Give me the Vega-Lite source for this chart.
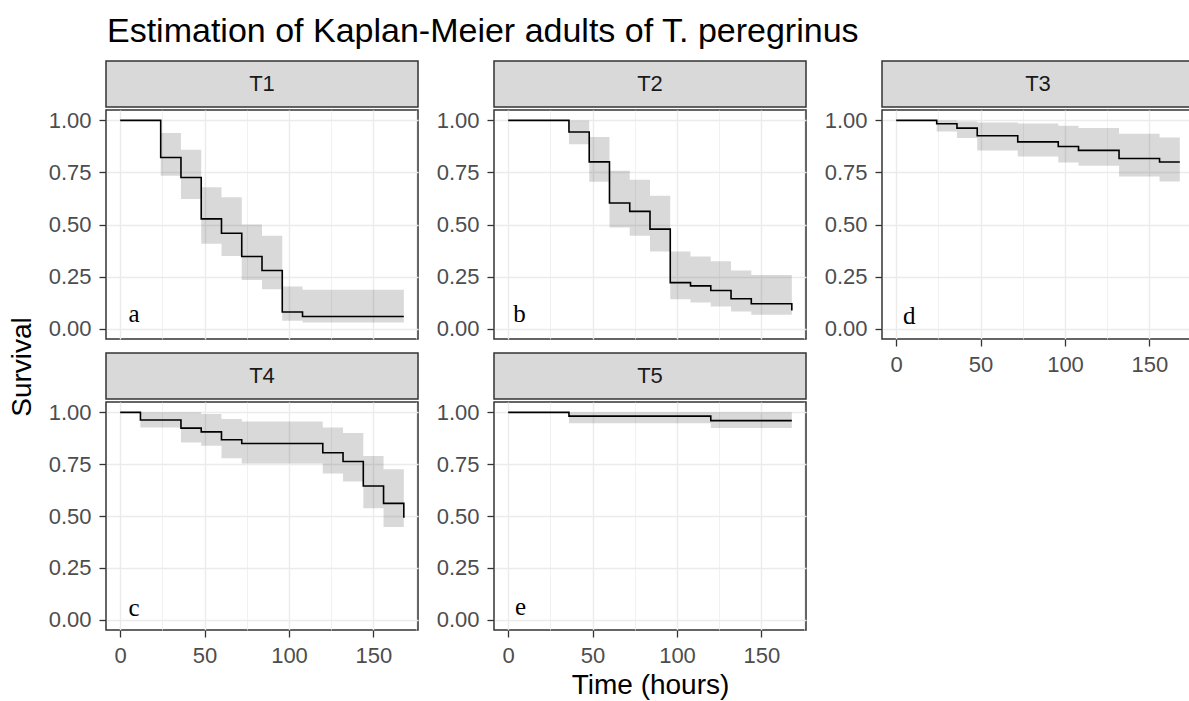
{
  "$schema": "https://vega.github.io/schema/vega-lite/v6.json",
  "padding": {"left": 5, "top": 15, "right": 5, "bottom": 5},
  "background": "white",
  "title": {"text": "Estimation of Kaplan-Meier adults of T. peregrinus", "anchor": "start", "fontSize": 34, "fontWeight": "normal", "font": "Liberation Sans", "color": "#000000", "dx": 102, "offset": 11},
  "config": {
    "font": "Liberation Sans",
    "view": {"stroke": null},
    "axis": {"labelFont": "Liberation Sans", "labelFontSize": 22, "labelColor": "#4D4D4D", "tickColor": "#333333", "tickSize": 7, "tickWidth": 1.3, "labelPadding": 8, "gridColor": "#EBEBEB", "domain": false, "titleFont": "Liberation Sans", "titleFontSize": 28, "titleFontWeight": "normal", "titleColor": "#000000", "labelOverlap": false, "labelFlush": false}
  },
  "datasets": {
    "km": [
      {"panel":"T1","time":0,"surv":1,"lower":1,"upper":1},
      {"panel":"T1","time":24,"surv":0.822,"lower":0.734,"upper":0.939},
      {"panel":"T1","time":36,"surv":0.726,"lower":0.623,"upper":0.859},
      {"panel":"T1","time":48,"surv":0.527,"lower":0.407,"upper":0.679},
      {"panel":"T1","time":60,"surv":0.458,"lower":0.349,"upper":0.631},
      {"panel":"T1","time":72,"surv":0.346,"lower":0.234,"upper":0.5},
      {"panel":"T1","time":84,"surv":0.279,"lower":0.189,"upper":0.446},
      {"panel":"T1","time":96,"surv":0.08,"lower":0.038,"upper":0.202},
      {"panel":"T1","time":108,"surv":0.058,"lower":0.029,"upper":0.186},
      {"panel":"T1","time":168,"surv":0.058,"lower":0.029,"upper":0.186},
      {"panel":"T2","time":0,"surv":1,"lower":1,"upper":1},
      {"panel":"T2","time":36,"surv":0.944,"lower":0.886,"upper":1.0},
      {"panel":"T2","time":48,"surv":0.801,"lower":0.705,"upper":0.92},
      {"panel":"T2","time":60,"surv":0.603,"lower":0.486,"upper":0.758},
      {"panel":"T2","time":72,"surv":0.563,"lower":0.446,"upper":0.715},
      {"panel":"T2","time":84,"surv":0.478,"lower":0.37,"upper":0.638},
      {"panel":"T2","time":96,"surv":0.221,"lower":0.141,"upper":0.37},
      {"panel":"T2","time":108,"surv":0.205,"lower":0.125,"upper":0.346},
      {"panel":"T2","time":120,"surv":0.183,"lower":0.106,"upper":0.324},
      {"panel":"T2","time":132,"surv":0.143,"lower":0.082,"upper":0.279},
      {"panel":"T2","time":144,"surv":0.119,"lower":0.066,"upper":0.258},
      {"panel":"T2","time":168,"surv":0.087,"lower":0.066,"upper":0.258},
      {"panel":"T3","time":0,"surv":1,"lower":1,"upper":1},
      {"panel":"T3","time":24,"surv":0.984,"lower":0.947,"upper":1.0},
      {"panel":"T3","time":36,"surv":0.963,"lower":0.915,"upper":0.995},
      {"panel":"T3","time":48,"surv":0.926,"lower":0.856,"upper":0.99},
      {"panel":"T3","time":72,"surv":0.897,"lower":0.827,"upper":0.985},
      {"panel":"T3","time":96,"surv":0.875,"lower":0.798,"upper":0.974},
      {"panel":"T3","time":108,"surv":0.856,"lower":0.782,"upper":0.963},
      {"panel":"T3","time":132,"surv":0.817,"lower":0.731,"upper":0.936},
      {"panel":"T3","time":156,"surv":0.8,"lower":0.707,"upper":0.918},
      {"panel":"T3","time":168,"surv":0.8,"lower":0.707,"upper":0.918},
      {"panel":"T4","time":0,"surv":1,"lower":1,"upper":1},
      {"panel":"T4","time":12,"surv":0.963,"lower":0.927,"upper":1.0},
      {"panel":"T4","time":36,"surv":0.924,"lower":0.855,"upper":1.0},
      {"panel":"T4","time":48,"surv":0.906,"lower":0.839,"upper":0.992},
      {"panel":"T4","time":60,"surv":0.868,"lower":0.779,"upper":0.968},
      {"panel":"T4","time":72,"surv":0.85,"lower":0.753,"upper":0.956},
      {"panel":"T4","time":120,"surv":0.805,"lower":0.705,"upper":0.927},
      {"panel":"T4","time":132,"surv":0.763,"lower":0.666,"upper":0.9},
      {"panel":"T4","time":144,"surv":0.645,"lower":0.537,"upper":0.79},
      {"panel":"T4","time":156,"surv":0.561,"lower":0.447,"upper":0.726},
      {"panel":"T4","time":168,"surv":0.492,"lower":0.447,"upper":0.726},
      {"panel":"T5","time":0,"surv":1,"lower":1,"upper":1},
      {"panel":"T5","time":36,"surv":0.982,"lower":0.948,"upper":1.0},
      {"panel":"T5","time":120,"surv":0.96,"lower":0.924,"upper":1.0},
      {"panel":"T5","time":168,"surv":0.96,"lower":0.924,"upper":1.0}
    ],
    "letters": [
      {"panel":"T1","label":"a","time":5,"surv":0.03},
      {"panel":"T2","label":"b","time":3,"surv":0.03},
      {"panel":"T3","label":"d","time":4,"surv":0.02},
      {"panel":"T4","label":"c","time":5,"surv":0.016},
      {"panel":"T5","label":"e","time":4,"surv":0.024}
    ]
  },
  "hconcat": [
    {
      "width": 36, "height": 612,
      "data": {"values": [{"label": "Survival"}]},
      "mark": {"type": "text", "angle": 270, "fontSize": 28, "color": "#000000", "baseline": "middle", "font": "Liberation Sans"},
      "encoding": {"text": {"field": "label"}}
    },
    {
      "hconcat": [
        {
          "vconcat": [
            {"vconcat": [
              {"width": 312, "height": 46, "view": {"fill": "#D9D9D9", "stroke": "#333333", "strokeWidth": 1.5}, "data": {"name": "letters"}, "transform": [{"filter": "datum.panel === 'T1'"}], "mark": {"type": "text", "fontSize": 22, "color": "#1A1A1A", "baseline": "middle"}, "encoding": {"text": {"field": "panel"}}},
              {"width": 312, "height": 229, "view": {"stroke": "#333333", "strokeWidth": 1.5},
               "layer": [
                 {"data": {"name": "km"}, "transform": [{"filter": "datum.panel === 'T1'"}], "mark": {"type": "area", "interpolate": "step-after", "color": "#000000", "opacity": 0.15},
                  "encoding": {"x": {"field": "time", "type": "quantitative", "scale": {"domain": [-8.4, 176.4], "nice": false, "zero": false}, "axis": {"values": [0,25,50,75,100,125,150,175], "labels": false, "ticks": false, "title": null, "gridWidth": {"condition": {"test": "datum.value % 50 === 0", "value": 1.4}, "value": 0.7}}},
                               "y": {"field": "upper", "type": "quantitative", "scale": {"domain": [-0.05, 1.05], "nice": false, "zero": false}, "axis": {"values": [0,0.125,0.25,0.375,0.5,0.625,0.75,0.875,1], "format": ".2f", "labelExpr": "(datum.value * 8) % 2 === 0 ? datum.label : ''", "tickOpacity": {"condition": {"test": "(datum.value * 8) % 2 === 0", "value": 1}, "value": 0}, "title": null, "gridWidth": {"condition": {"test": "(datum.value * 8) % 2 === 0", "value": 1.4}, "value": 0.7}}},
                               "y2": {"field": "lower"}}},
                 {"data": {"name": "km"}, "transform": [{"filter": "datum.panel === 'T1'"}], "mark": {"type": "line", "interpolate": "step-after", "color": "#000000", "strokeWidth": 1.6},
                  "encoding": {"x": {"field": "time", "type": "quantitative"}, "y": {"field": "surv", "type": "quantitative"}}},
                 {"data": {"name": "letters"}, "transform": [{"filter": "datum.panel === 'T1'"}], "mark": {"type": "text", "font": "Liberation Serif", "fontSize": 25, "align": "left", "baseline": "alphabetic", "color": "#000000"},
                  "encoding": {"x": {"field": "time", "type": "quantitative"}, "y": {"field": "surv", "type": "quantitative"}, "text": {"field": "label"}}}
               ]}
            ], "spacing": 0},
            {"vconcat": [
              {"width": 312, "height": 46, "view": {"fill": "#D9D9D9", "stroke": "#333333", "strokeWidth": 1.5}, "data": {"name": "letters"}, "transform": [{"filter": "datum.panel === 'T4'"}], "mark": {"type": "text", "fontSize": 22, "color": "#1A1A1A", "baseline": "middle"}, "encoding": {"text": {"field": "panel"}}},
              {"width": 312, "height": 228, "view": {"stroke": "#333333", "strokeWidth": 1.5},
               "layer": [
                 {"data": {"name": "km"}, "transform": [{"filter": "datum.panel === 'T4'"}], "mark": {"type": "area", "interpolate": "step-after", "color": "#000000", "opacity": 0.15},
                  "encoding": {"x": {"field": "time", "type": "quantitative", "scale": {"domain": [-8.4, 176.4], "nice": false, "zero": false}, "axis": {"values": [0,25,50,75,100,125,150,175], "format": "d", "labelExpr": "datum.value % 50 === 0 ? datum.label : ''", "tickOpacity": {"condition": {"test": "datum.value % 50 === 0", "value": 1}, "value": 0}, "title": null, "gridWidth": {"condition": {"test": "datum.value % 50 === 0", "value": 1.4}, "value": 0.7}}},
                               "y": {"field": "upper", "type": "quantitative", "scale": {"domain": [-0.05, 1.05], "nice": false, "zero": false}, "axis": {"values": [0,0.125,0.25,0.375,0.5,0.625,0.75,0.875,1], "format": ".2f", "labelExpr": "(datum.value * 8) % 2 === 0 ? datum.label : ''", "tickOpacity": {"condition": {"test": "(datum.value * 8) % 2 === 0", "value": 1}, "value": 0}, "title": null, "gridWidth": {"condition": {"test": "(datum.value * 8) % 2 === 0", "value": 1.4}, "value": 0.7}}},
                               "y2": {"field": "lower"}}},
                 {"data": {"name": "km"}, "transform": [{"filter": "datum.panel === 'T4'"}], "mark": {"type": "line", "interpolate": "step-after", "color": "#000000", "strokeWidth": 1.6},
                  "encoding": {"x": {"field": "time", "type": "quantitative"}, "y": {"field": "surv", "type": "quantitative"}}},
                 {"data": {"name": "letters"}, "transform": [{"filter": "datum.panel === 'T4'"}], "mark": {"type": "text", "font": "Liberation Serif", "fontSize": 25, "align": "left", "baseline": "alphabetic", "color": "#000000"},
                  "encoding": {"x": {"field": "time", "type": "quantitative"}, "y": {"field": "surv", "type": "quantitative"}, "text": {"field": "label"}}}
               ]}
            ], "spacing": 0}
          ],
          "spacing": 11
        },
        {
          "vconcat": [
            {"vconcat": [
              {"width": 312, "height": 46, "view": {"fill": "#D9D9D9", "stroke": "#333333", "strokeWidth": 1.5}, "data": {"name": "letters"}, "transform": [{"filter": "datum.panel === 'T2'"}], "mark": {"type": "text", "fontSize": 22, "color": "#1A1A1A", "baseline": "middle"}, "encoding": {"text": {"field": "panel"}}},
              {"width": 312, "height": 229, "view": {"stroke": "#333333", "strokeWidth": 1.5},
               "layer": [
                 {"data": {"name": "km"}, "transform": [{"filter": "datum.panel === 'T2'"}], "mark": {"type": "area", "interpolate": "step-after", "color": "#000000", "opacity": 0.15},
                  "encoding": {"x": {"field": "time", "type": "quantitative", "scale": {"domain": [-8.4, 176.4], "nice": false, "zero": false}, "axis": {"values": [0,25,50,75,100,125,150,175], "labels": false, "ticks": false, "title": null, "gridWidth": {"condition": {"test": "datum.value % 50 === 0", "value": 1.4}, "value": 0.7}}},
                               "y": {"field": "upper", "type": "quantitative", "scale": {"domain": [-0.05, 1.05], "nice": false, "zero": false}, "axis": {"values": [0,0.125,0.25,0.375,0.5,0.625,0.75,0.875,1], "format": ".2f", "labelExpr": "(datum.value * 8) % 2 === 0 ? datum.label : ''", "tickOpacity": {"condition": {"test": "(datum.value * 8) % 2 === 0", "value": 1}, "value": 0}, "title": null, "gridWidth": {"condition": {"test": "(datum.value * 8) % 2 === 0", "value": 1.4}, "value": 0.7}}},
                               "y2": {"field": "lower"}}},
                 {"data": {"name": "km"}, "transform": [{"filter": "datum.panel === 'T2'"}], "mark": {"type": "line", "interpolate": "step-after", "color": "#000000", "strokeWidth": 1.6},
                  "encoding": {"x": {"field": "time", "type": "quantitative"}, "y": {"field": "surv", "type": "quantitative"}}},
                 {"data": {"name": "letters"}, "transform": [{"filter": "datum.panel === 'T2'"}], "mark": {"type": "text", "font": "Liberation Serif", "fontSize": 25, "align": "left", "baseline": "alphabetic", "color": "#000000"},
                  "encoding": {"x": {"field": "time", "type": "quantitative"}, "y": {"field": "surv", "type": "quantitative"}, "text": {"field": "label"}}}
               ]}
            ], "spacing": 0},
            {"vconcat": [
              {"width": 312, "height": 46, "view": {"fill": "#D9D9D9", "stroke": "#333333", "strokeWidth": 1.5}, "data": {"name": "letters"}, "transform": [{"filter": "datum.panel === 'T5'"}], "mark": {"type": "text", "fontSize": 22, "color": "#1A1A1A", "baseline": "middle"}, "encoding": {"text": {"field": "panel"}}},
              {"width": 312, "height": 228, "view": {"stroke": "#333333", "strokeWidth": 1.5},
               "layer": [
                 {"data": {"name": "km"}, "transform": [{"filter": "datum.panel === 'T5'"}], "mark": {"type": "area", "interpolate": "step-after", "color": "#000000", "opacity": 0.15},
                  "encoding": {"x": {"field": "time", "type": "quantitative", "scale": {"domain": [-8.4, 176.4], "nice": false, "zero": false}, "axis": {"values": [0,25,50,75,100,125,150,175], "format": "d", "labelExpr": "datum.value % 50 === 0 ? datum.label : ''", "tickOpacity": {"condition": {"test": "datum.value % 50 === 0", "value": 1}, "value": 0}, "title": "Time (hours)", "titlePadding": 5, "gridWidth": {"condition": {"test": "datum.value % 50 === 0", "value": 1.4}, "value": 0.7}}},
                               "y": {"field": "upper", "type": "quantitative", "scale": {"domain": [-0.05, 1.05], "nice": false, "zero": false}, "axis": {"values": [0,0.125,0.25,0.375,0.5,0.625,0.75,0.875,1], "format": ".2f", "labelExpr": "(datum.value * 8) % 2 === 0 ? datum.label : ''", "tickOpacity": {"condition": {"test": "(datum.value * 8) % 2 === 0", "value": 1}, "value": 0}, "title": null, "gridWidth": {"condition": {"test": "(datum.value * 8) % 2 === 0", "value": 1.4}, "value": 0.7}}},
                               "y2": {"field": "lower"}}},
                 {"data": {"name": "km"}, "transform": [{"filter": "datum.panel === 'T5'"}], "mark": {"type": "line", "interpolate": "step-after", "color": "#000000", "strokeWidth": 1.6},
                  "encoding": {"x": {"field": "time", "type": "quantitative"}, "y": {"field": "surv", "type": "quantitative"}}},
                 {"data": {"name": "letters"}, "transform": [{"filter": "datum.panel === 'T5'"}], "mark": {"type": "text", "font": "Liberation Serif", "fontSize": 25, "align": "left", "baseline": "alphabetic", "color": "#000000"},
                  "encoding": {"x": {"field": "time", "type": "quantitative"}, "y": {"field": "surv", "type": "quantitative"}, "text": {"field": "label"}}}
               ]}
            ], "spacing": 0}
          ],
          "spacing": 11
        },
        {
          "vconcat": [
            {"vconcat": [
              {"width": 312, "height": 46, "view": {"fill": "#D9D9D9", "stroke": "#333333", "strokeWidth": 1.5}, "data": {"name": "letters"}, "transform": [{"filter": "datum.panel === 'T3'"}], "mark": {"type": "text", "fontSize": 22, "color": "#1A1A1A", "baseline": "middle"}, "encoding": {"text": {"field": "panel"}}},
              {"width": 312, "height": 229, "view": {"stroke": "#333333", "strokeWidth": 1.5},
               "layer": [
                 {"data": {"name": "km"}, "transform": [{"filter": "datum.panel === 'T3'"}], "mark": {"type": "area", "interpolate": "step-after", "color": "#000000", "opacity": 0.15},
                  "encoding": {"x": {"field": "time", "type": "quantitative", "scale": {"domain": [-8.4, 176.4], "nice": false, "zero": false}, "axis": {"values": [0,25,50,75,100,125,150,175], "format": "d", "labelExpr": "datum.value % 50 === 0 ? datum.label : ''", "tickOpacity": {"condition": {"test": "datum.value % 50 === 0", "value": 1}, "value": 0}, "title": null, "gridWidth": {"condition": {"test": "datum.value % 50 === 0", "value": 1.4}, "value": 0.7}}},
                               "y": {"field": "upper", "type": "quantitative", "scale": {"domain": [-0.05, 1.05], "nice": false, "zero": false}, "axis": {"values": [0,0.125,0.25,0.375,0.5,0.625,0.75,0.875,1], "format": ".2f", "labelExpr": "(datum.value * 8) % 2 === 0 ? datum.label : ''", "tickOpacity": {"condition": {"test": "(datum.value * 8) % 2 === 0", "value": 1}, "value": 0}, "title": null, "gridWidth": {"condition": {"test": "(datum.value * 8) % 2 === 0", "value": 1.4}, "value": 0.7}}},
                               "y2": {"field": "lower"}}},
                 {"data": {"name": "km"}, "transform": [{"filter": "datum.panel === 'T3'"}], "mark": {"type": "line", "interpolate": "step-after", "color": "#000000", "strokeWidth": 1.6},
                  "encoding": {"x": {"field": "time", "type": "quantitative"}, "y": {"field": "surv", "type": "quantitative"}}},
                 {"data": {"name": "letters"}, "transform": [{"filter": "datum.panel === 'T3'"}], "mark": {"type": "text", "font": "Liberation Serif", "fontSize": 25, "align": "left", "baseline": "alphabetic", "color": "#000000"},
                  "encoding": {"x": {"field": "time", "type": "quantitative"}, "y": {"field": "surv", "type": "quantitative"}, "text": {"field": "label"}}}
               ]}
            ], "spacing": 0}
          ],
          "spacing": 11
        }
      ],
      "spacing": 16
    }
  ],
  "spacing": 6
}
